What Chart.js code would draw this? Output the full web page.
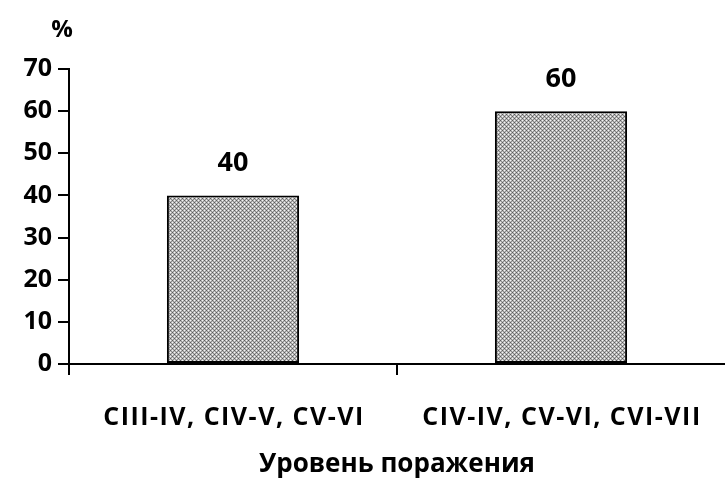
<!DOCTYPE html>
<html>
<head>
<meta charset="utf-8">
<script src="https://cdn.jsdelivr.net/npm/chart.js@4/dist/chart.umd.min.js"></script>
<style>
  html, body { margin: 0; padding: 0; background: #fff; }
  #wrap { width: 725px; height: 482px; position: relative; }
</style>
</head>
<body>
<div id="wrap"><canvas id="c" width="725" height="482"></canvas></div>
<script>
// Lesion level groups and share of patients (%)
const categories = ['CIII-IV, CIV-V, CV-VI', 'CIV-IV, CV-VI, CVI-VII'];
const percentValues = [40, 60];
const yTicks = [0, 10, 20, 30, 40, 50, 60, 70];
const xTitle = 'Уровень поражения';
const yUnit = '%';

const FONT = '"Open Sans", "Liberation Sans", sans-serif';

// Fine grey checkered fill for the bars
function makePattern() {
  const t = document.createElement('canvas');
  t.width = 4; t.height = 4;
  const g = t.getContext('2d');
  const D = '#5a5a5a', W = '#f4f4f4', L = '#bdbdbd', G = '#8c8c8c';
  const rows = [
    [D, L, W, L],
    [L, G, L, G],
    [W, L, D, L],
    [L, G, L, G]
  ];
  rows.forEach((r, y) => r.forEach((col, x) => { g.fillStyle = col; g.fillRect(x, y, 1, 1); }));
  return g.createPattern(t, 'repeat');
}

// Value labels above bars, letter-spaced category labels, unit sign above the y axis
const annotate = {
  id: 'annotate',
  afterDatasetsDraw(chart) {
    const ctx = chart.ctx;
    const meta = chart.getDatasetMeta(0);
    const x = chart.scales.x;
    const y = chart.scales.y;
    ctx.save();
    ctx.fillStyle = '#000';
    ctx.textAlign = 'center';

    ctx.font = 'bold 27px ' + FONT;
    ctx.textBaseline = 'middle';
    meta.data.forEach((bar, i) => {
      ctx.fillText(String(percentValues[i]), bar.x, bar.y - 32);
    });

    ctx.font = 'bold 24px ' + FONT;
    ctx.fillText(yUnit, y.right - 7, y.top - 39);

    ctx.font = 'bold 25px ' + FONT;
    ctx.textBaseline = 'alphabetic';
    ctx.letterSpacing = '1.5px';
    categories.forEach((label, i) => {
      ctx.fillText(label, x.getPixelForTick(i) + 1, y.bottom + 61);
    });
    ctx.restore();
  }
};

new Chart(document.getElementById('c'), {
  type: 'bar',
  data: {
    labels: categories,
    datasets: [{
      data: percentValues,
      backgroundColor: makePattern(),
      borderColor: '#000',
      borderWidth: 2,
      borderSkipped: false,
      categoryPercentage: 1,
      barPercentage: 0.403
    }]
  },
  options: {
    responsive: false,
    animation: false,
    layout: { padding: { top: 69, right: 0, left: 0, bottom: 0 } },
    plugins: { legend: { display: false }, tooltip: { enabled: false } },
    scales: {
      x: {
        grid: {
          display: true, drawOnChartArea: false, offset: true, lineWidth: 2, tickLength: 11,
          // no tick mark at the far right edge
          color: (c) => (c.tick ? '#000' : 'rgba(0,0,0,0)')
        },
        border: { display: true, color: '#000', width: 2 },
        ticks: { display: false },
        title: { display: true, text: xTitle, color: '#000', font: { family: FONT, size: 26, weight: 'bold' }, padding: { top: 0, bottom: 2 } },
        afterFit(s) { s.height = 118; }
      },
      y: {
        min: 0, max: 70,
        afterBuildTicks(s) { s.ticks = yTicks.map(v => ({ value: v })); },
        grid: { display: true, drawOnChartArea: false, color: '#000', lineWidth: 2, tickLength: 11 },
        border: { display: true, color: '#000', width: 2 },
        ticks: { color: '#000', font: { family: FONT, size: 25, weight: 'bold' }, padding: 6 },
        afterFit(s) { s.width = 69; }
      }
    }
  },
  plugins: [annotate]
});
</script>
</body>
</html>
